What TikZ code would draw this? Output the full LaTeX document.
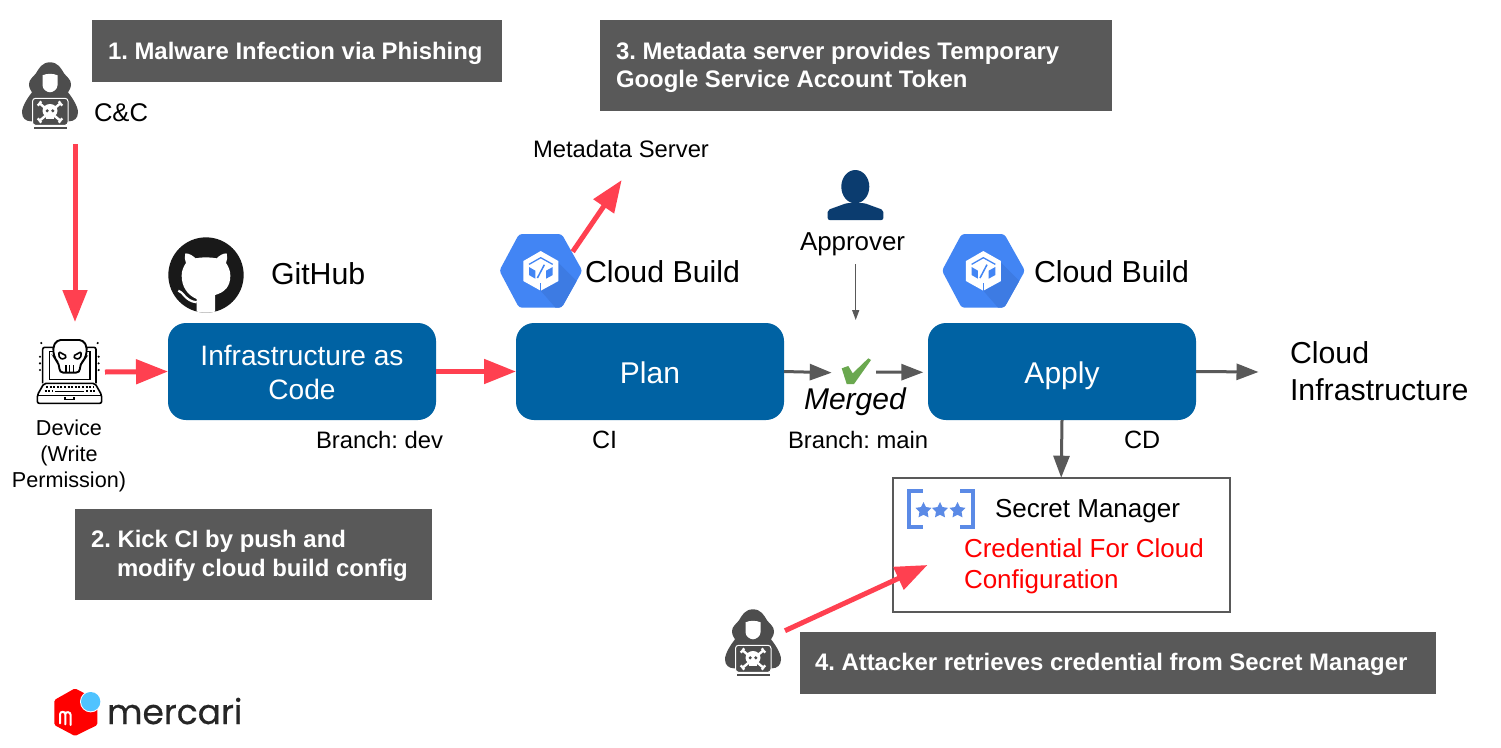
\documentclass[tikz,border=0pt]{standalone}
\usepackage{fontspec}
\setmainfont{Liberation Sans}
\newfontfamily\logofont[FakeBold=0.5]{Poppins}
\usetikzlibrary{arrows.meta,shapes.geometric}
\definecolor{tgray}{HTML}{595959}
\definecolor{bblue}{HTML}{0062A3}
\definecolor{rred}{HTML}{FF4050}
\definecolor{gblue}{HTML}{4285F4}
\definecolor{gblued}{HTML}{3D7BE3}
\definecolor{sblue}{HTML}{5B8AE6}
\definecolor{navy}{HTML}{0B3C6F}
\definecolor{hgray}{HTML}{4D4D4D}
\definecolor{chk}{HTML}{6AA84F}
\definecolor{mblue}{HTML}{4FC3FF}
\newcommand\pxfont[2]{\fontsize{#1}{#2}\selectfont}
\tikzset{
  x=1pt,y=-1pt,
  every node/.style={inner sep=0pt,outer sep=0pt},
  lbl/.style={anchor=base west,text=black,font=\pxfont{23.8}{28}},
  titlebox/.style={fill=tgray,anchor=north west},
  titletext/.style={text=white,anchor=west,align=left,font=\bfseries\pxfont{23.9}{28.6}},
  stagebox/.style={fill=bblue,rounded corners=18pt,minimum width=268pt,minimum height=97pt,anchor=center},
  stagetext/.style={text=white,align=center,anchor=center},
  redarrow/.style={draw=rred,line width=5pt,-{Triangle[length=32pt,width=24pt,fill=rred]}},
  grayarrow/.style={draw=tgray,line width=3pt,-{Triangle[length=22pt,width=16pt,fill=tgray]}},
  thinarrow/.style={draw=tgray,line width=1.3pt,-{Triangle[length=10pt,width=7pt,fill=tgray]}},
  hacker/.pic={
    \fill[hgray] (0,-31) .. controls (8,-31) and (11,-25) .. (14,-20) .. controls (17,-16) and (21,-14) .. (21,-9) .. controls (21,-5) and (19,-3) .. (18,-1) .. controls (22,4) and (28,13) .. (28,19) .. controls (28,25) and (24,28) .. (19,28) -- (-19,28) .. controls (-24,28) and (-28,25) .. (-28,19) .. controls (-28,13) and (-22,4) .. (-18,-1) .. controls (-19,-3) and (-21,-5) .. (-21,-9) .. controls (-21,-14) and (-17,-16) .. (-14,-20) .. controls (-11,-25) and (-8,-31) .. (0,-31) -- cycle;
    \fill[white] (-7.5,-18) .. controls (-3,-20) and (3,-20) .. (7.5,-18) -- (7.5,-8) .. controls (7.5,-4) and (3,-1) .. (0,-1) .. controls (-3,-1) and (-7.5,-4) .. (-7.5,-8) -- cycle;
    \draw[white,fill=hgray,line width=1pt,rounded corners=3pt] (-17.5,5) rectangle (18,32);
    \draw[white,line width=2.4pt,line cap=round] (-10.5,10) -- (10.5,27.5) (10.5,10) -- (-10.5,27.5);
    \fill[white] (-11.5,11.5) circle (1.6) (-9.5,9) circle (1.6) (11.5,11.5) circle (1.6) (9.5,9) circle (1.6)
                 (-11.5,26) circle (1.6) (-9.5,28.5) circle (1.6) (11.5,26) circle (1.6) (9.5,28.5) circle (1.6);
    \fill[white] (0,17.5) ellipse (7.5 and 6.8);
    \fill[white] (-3.6,21) rectangle (3.6,25.5);
    \fill[hgray] (-2.8,17.5) circle (1.7) (2.8,17.5) circle (1.7);
    \fill[hgray] (-16,34) rectangle (17,35.5);
  },
  cbhex/.pic={
    \begin{scope}[scale=1/3,shift={(-152,-302)}]
    \path[fill=gblue,rounded corners=3pt] (28,302) -- (87,192) -- (215,192) -- (277,302) -- (215,413) -- (87,413) -- cycle;
    \begin{scope}
      \clip[rounded corners=3pt] (28,302) -- (87,192) -- (215,192) -- (277,302) -- (215,413) -- (87,413) -- cycle;
      \fill[gblued] (205,278) -- (300,373) -- (220,440) -- (152,362) -- (205,335) -- cycle;
    \end{scope}
    \fill[white] (152,243) -- (205,273) -- (205,333) -- (152,362) -- (100,333) -- (100,273) -- cycle;
    \fill[gblue] (117,291) -- (136,302) -- (136,326) -- (117,315) -- cycle;
    \fill[gblue] (188,291) -- (168,302) -- (168,326) -- (188,315) -- cycle;
    \draw[gblue,line width=1.3pt,line join=round] (117,283) -- (152,263) -- (188,283);
    \draw[gblue,line width=1.5pt] (152,340) -- (152,362);
    \draw[gblue,line width=1.5pt] (142,324) -- (163,284);
    \end{scope}
  },
}
\begin{document}
\frenchspacing
\begin{tikzpicture}
\useasboundingbox (0,0) rectangle (1501,747);
\fill[white] (0,0) rectangle (1501,747);

% title boxes
\node[titlebox,minimum width=410pt,minimum height=62pt] (t1) at (92,20) {};
\node[titletext] (t1t) at ([xshift=16pt,yshift=-2pt]t1.west) {1. Malware Infection via Phishing};
\node[titlebox,minimum width=357pt,minimum height=91pt] (t2) at (75,509) {};
\node[titletext] (t2t) at ([xshift=16pt,yshift=-1.5pt]t2.west) {2. Kick CI by push and\\\hspace*{26pt}modify cloud build config};
\node[titlebox,minimum width=512pt,minimum height=91pt] (t3) at (600,20) {};
\node[titletext] (t3t) at ([xshift=16pt,yshift=-2pt]t3.west) {3. Metadata server provides Temporary\\Google Service Account Token};
\node[titlebox,minimum width=636pt,minimum height=62pt] (t4) at (800,632) {};
\node[titletext] (t4t) at ([xshift=15pt,yshift=-1.5pt]t4.west) {4. Attacker retrieves credential from Secret Manager};

% stage boxes
\node[stagebox] (iac) at (302,371.5) {};
\node[stagetext,font=\pxfont{28.1}{34}] (iact) at ([yshift=-1pt]iac.center) {Infrastructure as\\Code};
\node[stagebox] (plan) at (650,371.5) {};
\node[stagetext,font=\pxfont{30}{34},text height=29pt,text depth=6pt] (plant) at (plan.center) {Plan};
\node[stagebox] (apply) at (1062,371.5) {};
\node[stagetext,font=\pxfont{30}{34},text height=29pt,text depth=6pt] (applyt) at (apply.center) {Apply};

% secret manager box
\node[draw=tgray,line width=2pt,minimum width=337pt,minimum height=134pt,anchor=north west] (sm) at (892.7,477.7) {};

% labels
\node[lbl,font=\pxfont{25.6}{30}] (cc) at (94,121) {C\&C};
\node[align=center,font=\pxfont{21.6}{26}] (dev) at (69,455.5) {Device\\(Write\\Permission)};
\node[lbl,font=\pxfont{30.3}{34}] (gh) at (271,284.3) {GitHub};
\node[lbl,font=\pxfont{30.3}{34}] (cb1) at (585,282) {Cloud Build};
\node[lbl,font=\pxfont{30.3}{34}] (cb2) at (1034,282) {Cloud Build};
\node[lbl] (meta) at (533,157) {Metadata Server};
\node[lbl,font=\pxfont{25.9}{30}] (appr) at (800,250.3) {Approver};
\node[lbl,font=\itshape\pxfont{30}{34}] (merged) at (804,409.3) {Merged};
\node[lbl] (bmain) at (788,448) {Branch: main};
\node[lbl] (bdev) at (316,448) {Branch: dev};
\node[lbl,font=\pxfont{25}{30}] (ci) at (592,448) {CI};
\node[lbl,font=\pxfont{25}{30}] (cd) at (1124,448) {CD};
\node[lbl,font=\pxfont{30.3}{37}] (ci1) at (1290,363) {Cloud};
\node[lbl,font=\pxfont{30.3}{37}] (ci2) at (1290,400) {Infrastructure};
\node[lbl,font=\pxfont{26}{30}] (smt) at (995,517) {Secret Manager};
\node[lbl,font=\pxfont{26}{30},text=red] (cred1) at (964,557) {Credential For Cloud};
\node[lbl,font=\pxfont{26}{30},text=red] (cred2) at (964,588.3) {Configuration};

% hackers
\pic at (50,93.3) {hacker};
\pic at (753,640.3) {hacker};

% device laptop
\begin{scope}[shift={(0,320)},scale=1/3,line width=1.6pt,draw=black]
  \draw[rounded corners=2pt] (128,190) -- (128,82) -- (288,82) -- (288,190);
  \draw (148,178) rectangle (270,95);
  \draw[rounded corners=2pt,fill=white] (132,190) -- (285,190) -- (305,225) -- (305,250) -- (112,250) -- (112,225) -- cycle;
  \draw (112,226) -- (305,226);
  \draw (195,231) -- (195,238) -- (222,238) -- (222,231);
  \draw[line width=1.7pt,dash pattern=on 2pt off 1.6pt] (138,202) -- (280,202);
  \draw[line width=1.7pt,dash pattern=on 2pt off 1.6pt] (134,214) -- (160,214) (258,214) -- (284,214);
  \draw[line width=1.4pt] (165,214) -- (252,214);
  \draw[fill=white,line width=1.9pt,rounded corners=4pt] (178,158) -- (178,132) -- (165,118) -- (158,85) -- (170,60) -- (250,60) -- (262,85) -- (255,118) -- (240,132) -- (240,158) -- cycle;
  \draw[line width=1.5pt] (198,135) -- (198,158) (209,135) -- (209,158) (220,135) -- (220,158);
  \draw[line width=1.6pt,rounded corners=1.5pt] (176,95) -- (200,108) -- (192,118) -- (178,114) -- cycle;
  \draw[line width=1.6pt,rounded corners=1.5pt] (244,95) -- (220,108) -- (228,118) -- (242,114) -- cycle;
  \fill[black] (124,69) circle (3.5) (293,69) circle (3.5);
  \foreach \yy in {110,130,150} {\fill[black] (120,\yy) circle (3.5); \fill[black] (296,\yy) circle (3.5);}
\end{scope}

% github logo
\begin{scope}[shift={(150,225)},scale=1/3]
  \fill[black!90] (168,150) circle (113);
  \begin{scope}
  \clip (168,150) circle (113);
  \fill[white] (140,270) -- (140,222) .. controls (112,210) and (95,185) .. (95,152) .. controls (95,138) and (100,125) .. (108,114) .. controls (104,105) and (103,95) .. (106,85) .. controls (118,85) and (128,92) .. (137,100) .. controls (155,96) and (180,96) .. (200,100) .. controls (208,92) and (218,85) .. (230,85) .. controls (233,95) and (232,105) .. (228,114) .. controls (236,125) and (241,138) .. (241,152) .. controls (241,185) and (224,202) .. (195,210) -- (195,270) -- cycle;
  \draw[white,line width=2.2pt] (85,197) .. controls (100,200) and (105,228) .. (140,232);
  \end{scope}
\end{scope}

% approver icon
\fill[navy] (855.3,186.7) ellipse (14 and 16.7);
\fill[navy,rounded corners=2pt] (827.7,220) -- (827.7,210) -- (847,203) -- (864,203) -- (883.3,210) -- (883.3,220) -- cycle;

% cloud build icons
\pic at (540.7,270.7) {cbhex};
\pic at (983.3,270.7) {cbhex};

% check mark
\fill[chk] (841.7,368.3) -- (848.3,366) -- (852.7,373.3) -- (868.3,358.3) -- (871,360) -- (854,384) -- (846.7,384) -- cycle;

% secret manager icon
\begin{scope}[shift={(880,470)},scale=1/3,draw=sblue]
  \draw[line width=4pt] (128,62) -- (87,62) -- (87,171) -- (128,171);
  \draw[line width=4pt] (240,62) -- (278,62) -- (278,171) -- (240,171);
\end{scope}
\foreach \sx/\sn in {923.5/a,940/b,957.5/c}
  \node[star,star points=5,star point ratio=2,fill=sblue,minimum size=17pt] (st\sn) at (\sx,510.5) {};

% mercari logo
\begin{scope}[shift={(40,675)},scale=1/3]
  \fill[red,rounded corners=1.5pt] (105,40) -- (172,75) -- (172,150) -- (105,183) -- (43,150) -- (43,75) -- cycle;
  \draw[white,line width=2pt,line cap=round] (60,145) -- (60,118) .. controls (60,108) and (76,108) .. (76,118) -- (76,148) (76,118) .. controls (76,108) and (92,110) .. (92,120) -- (92,150);
  \fill[white] (152,80) circle (32);
  \fill[mblue] (152,80) circle (29);
\end{scope}
\node[anchor=base west,text=black!85,font=\logofont\pxfont{34.5}{40}] (merc) at (107,724) {mercari};

% connector ends
\coordinate (ccout) at (75,144);
\coordinate (devin) at (75,322);
\coordinate (devout) at (105,372);
\coordinate (cbout) at (572.7,251.7);
\coordinate (metain) at (621.7,180);
\coordinate (hackout) at (785,630.7);
\coordinate (smin) at (927.5,565);
\coordinate (checkin) at (831.7,372.7);
\coordinate (checkout) at (876,372);
\coordinate (cloudin) at (1258.5,372);
\coordinate (apprOut) at (855.7,264);
\coordinate (apprIn) at (855.7,320);
\coordinate (applyIn) at (923.3,372.3);

% connectors
\draw[redarrow] (ccout) -- (devin);
\draw[redarrow] (devout) -- (iac.west);
\draw[redarrow] (iac.east) -- (plan.west);
\draw[redarrow] (cbout) -- (metain);
\draw[redarrow] (hackout) -- (smin);
\draw[grayarrow] (plan.east) -- (checkin);
\draw[grayarrow] (checkout) -- (applyIn);
\draw[grayarrow] (apply.east) -- (cloudin);
\draw[grayarrow] (apply.south) -- (sm.north);
\draw[thinarrow] (apprOut) -- (apprIn);
\end{tikzpicture}
\end{document}
